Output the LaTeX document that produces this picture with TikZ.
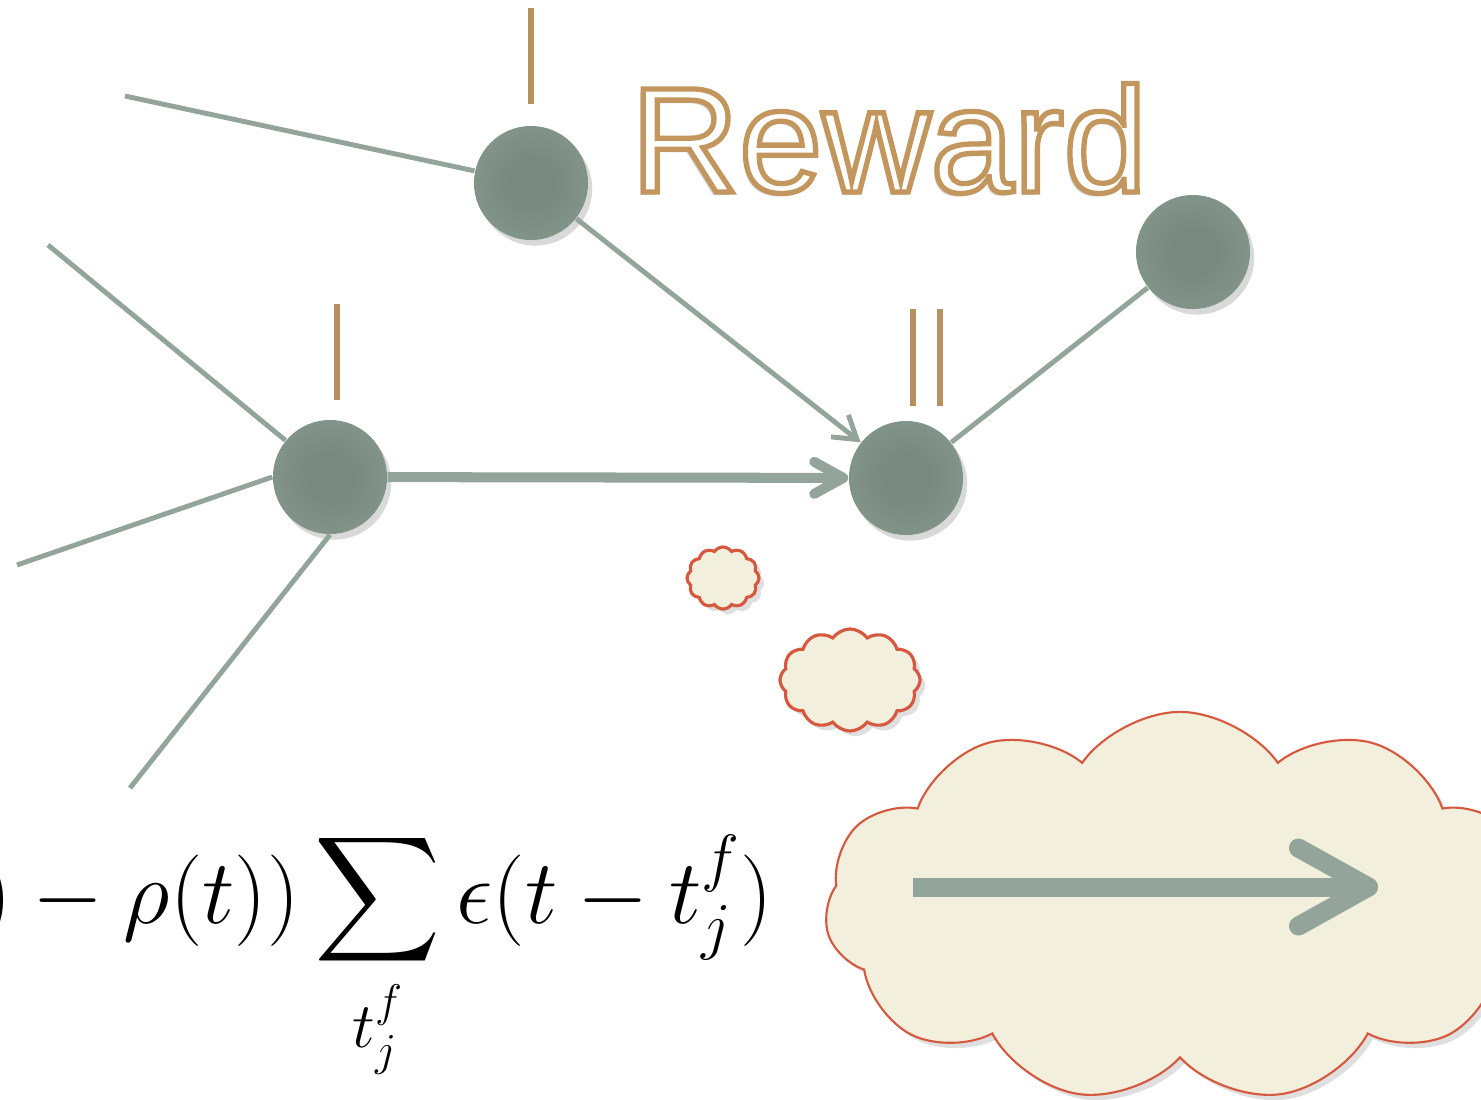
\RequirePackage{fix-cm}
\documentclass[tikz,border=0pt]{standalone}
\usepackage{fontspec}
\usepackage{amsmath}
\usepackage{tikz}
\usetikzlibrary{arrows.meta, calc,
    shapes.symbols, shadows}
\newfontfamily\rewardfont{Liberation Sans}
\definecolor{nodegreen}{RGB}{120,138,127}
\definecolor{nodeedge}{RGB}{146,165,153}
\definecolor{wiregray}{RGB}{147,165,154}
\definecolor{spiketan}{RGB}{182,144,94}
\definecolor{rewardtan}{RGB}{194,150,92}
\definecolor{cloudfill}{RGB}{242,240,220}
\definecolor{cloudred}{RGB}{214,88,62}
\pgfdeclareradialshading{neuronshade}{\pgfpoint{0bp}{0bp}}{%
    color(0bp)=(nodegreen); color(10bp)=(nodegreen);
    color(50bp)=(nodeedge)}
% outlined letters: fill white, stroke tan
\newcommand{\outlined}[1]{%
    \special{pdf:literal direct 2 Tr 1.5 w 0.761 0.588 0.361 RG}%
    #1\special{pdf:literal direct 0 Tr}}

\begin{document}
\begin{tikzpicture}[x=0.01cm, y=-0.01cm,
    neuron/.style={
        circle, minimum size=1.14cm, inner sep=0,
        shading=neuronshade,
        drop shadow={shadow xshift=1.2pt,
            shadow yshift=-1.6pt, opacity=0.3}
    },
    wire/.style={wiregray, line width=1.4pt},
    spike/.style={spiketan, line width=1.7pt},
    rewardtxt/.style={font=\rewardfont\fontsize{42.6pt}{48pt}\selectfont,
        anchor=base, inner sep=0},
    thought/.style={
        cloud, cloud puffs=12, cloud puff arc=110,
        cloud ignores aspect, inner sep=0,
        draw=cloudred, fill=cloudfill,
        drop shadow={shadow xshift=1.5pt,
            shadow yshift=-1.5pt, opacity=0.25}
    }
]
\clip (0,0) rectangle (1481,1099);
\useasboundingbox (0,0) rectangle (1481,1099);

% neurons
\node[neuron] (a) at (531,183)  {};
\node[neuron] (b) at (330,477)  {};
\node[neuron] (c) at (906,478)  {};
\node[neuron] (d) at (1193,252) {};

\coordinate (a0) at (125,96);
\coordinate (b1) at (48,245);
\coordinate (b2) at (17,565);
\coordinate (b3) at (130,788);

\draw[wire] (a0) -- (a);
\draw[wire] (b1) -- (b);
\draw[wire] (b2) -- (b.west);
\draw[wire] (b3) -- (b.south);
\draw[wire] (c) -- (d);
\draw[wire, -{Straight Barb[length=2.2mm, width=2.8mm]}] (a) -- (c);
\draw[wiregray, line width=2.85pt,
    -{Straight Barb[round, length=2.9mm, width=3.2mm]}] (b) -- (c);

% spikes
\draw[spike] (531,8) -- (531,104);
\draw[spike] (337,304) -- (337,400);
\draw[spike] (913,309) -- (913,406);
\draw[spike] (940,309) -- (940,406);

% reward label
\node[rewardtxt, text=black!18] (rwshadow) at (887,195) {Reward};
\node[rewardtxt, text=white] (reward) at (889,192) {\outlined{Reward}};

% learning rule
\node[anchor=base east, inner sep=0,
    font=\fontsize{26pt}{31pt}\selectfont] (rule) at (774,923)
    {$\displaystyle )-\rho(t))\sum_{t_j^f}\epsilon(t-t_j^f)$};

% thought clouds
\node[thought, line width=0.9pt, minimum width=0.72cm,
    minimum height=0.62cm] (puff1) at (723,578) {};
\node[thought, line width=0.9pt, minimum width=1.4cm,
    minimum height=1.02cm] (puff2) at (850,680) {};
\node[thought, line width=0.6pt, cloud puffs=11, minimum width=7.1cm,
    minimum height=3.9cm] (bubble) at (1180,907) {};

\coordinate (ca) at (913,887);
\coordinate (cb) at (1378,887);
\draw[wiregray, line width=5.4pt,
    -{Straight Barb[round, length=7mm, width=7.8mm]}] (ca) -- (cb);
\end{tikzpicture}
\end{document}
